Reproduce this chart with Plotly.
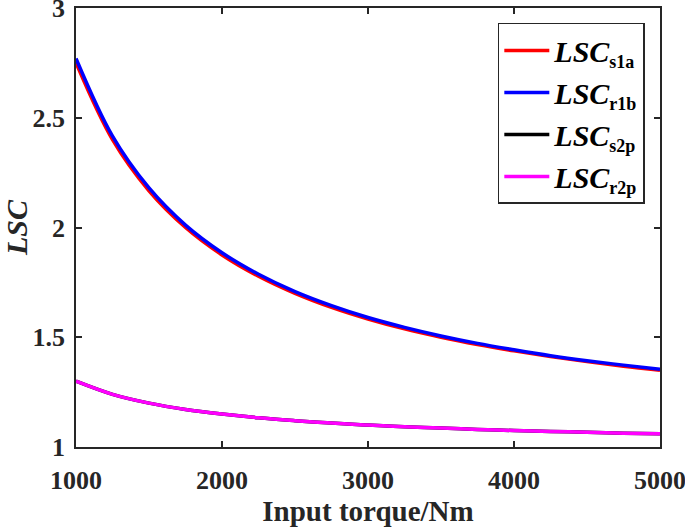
import plotly.graph_objects as go

torque = [1000, 1250, 1500, 1750, 2000, 2250, 2500, 2750, 3000,
          3250, 3500, 3750, 4000, 4250, 4500, 4750, 5000]
lsc_s1a = [2.750, 2.400, 2.167, 2.000, 1.875, 1.778, 1.700, 1.636, 1.583,
           1.538, 1.500, 1.467, 1.438, 1.412, 1.389, 1.368, 1.350]
lsc_r1b = [2.770, 2.416, 2.180, 2.011, 1.885, 1.787, 1.708, 1.644, 1.590,
           1.545, 1.506, 1.472, 1.443, 1.416, 1.393, 1.373, 1.354]
lsc_s2p = [1.300, 1.240, 1.200, 1.171, 1.150, 1.133, 1.120, 1.109, 1.100,
           1.092, 1.086, 1.080, 1.075, 1.071, 1.067, 1.063, 1.060]
lsc_r2p = [1.300, 1.240, 1.200, 1.171, 1.150, 1.133, 1.120, 1.109, 1.100,
           1.092, 1.086, 1.080, 1.075, 1.071, 1.067, 1.063, 1.060]

x_ticks = [1000, 2000, 3000, 4000, 5000]
y_ticks = [1, 1.5, 2, 2.5, 3]
subs = ["s1a", "r1b", "s2p", "r2p"]

names = [f"<b><i>LSC</i><sub><span style='font-size:18px'>{s}</span></sub></b>" for s in subs]
series = [lsc_s1a, lsc_r1b, lsc_s2p, lsc_r2p]
colors = ["#ff0000", "#0000ff", "#000000", "#ff00ff"]

fig = go.Figure()
for i, (n, s, c) in enumerate(zip(names, series, colors)):
    fig.add_trace(go.Scatter(x=torque, y=s, mode="lines", name=n, legendgroup=f"g{i}",
                             line=dict(color=c, width=3.5, shape="spline")))

font = "Liberation Serif, Times New Roman, serif"
axis_common = dict(showgrid=False, zeroline=False, showline=True, linecolor="#262626",
                   linewidth=1.5, mirror="ticks", ticks="inside", ticklen=6,
                   tickwidth=1.5, tickcolor="#262626", ticklabeloverflow="allow",
                   automargin=False,
                   tickfont=dict(family=font, size=26, color="#262626"))

fig.update_layout(
    width=685, height=530,
    margin=dict(l=76, r=25, t=8, b=83),
    plot_bgcolor="white", paper_bgcolor="white",
    font=dict(family=font, color="#262626"),
    xaxis=dict(range=[1000, 5000], tickvals=x_ticks,
               ticktext=[f"<b>{v}</b>" for v in x_ticks],
               ticklabelstandoff=9,
               title=dict(text="<b>Input torque/Nm</b>", standoff=3,
                          font=dict(family=font, size=29, color="#262626")),
               **axis_common),
    yaxis=dict(range=[1, 3], tickvals=y_ticks,
               ticktext=["<b>1</b>", "<b>1.5</b>", "<b>2</b>", "<b>2.5</b>", "<b>3</b>"],
               ticklabelstandoff=4,
               title=dict(text="<b><i>LSC</i></b>", font=dict(family=font, size=30, color="#262626")),
               **axis_common),
    legend=dict(x=0.974, y=0.966, xanchor="right", yanchor="top",
                bgcolor="white", bordercolor="#262626", borderwidth=1.5,
                font=dict(family=font, size=30, color="black"),
                itemwidth=45,
                traceorder="grouped", tracegroupgap=0),
    showlegend=True,
)

fig.write_html("out.html", config={"displayModeBar": False},
               post_script="document.body.style.margin='0';")
